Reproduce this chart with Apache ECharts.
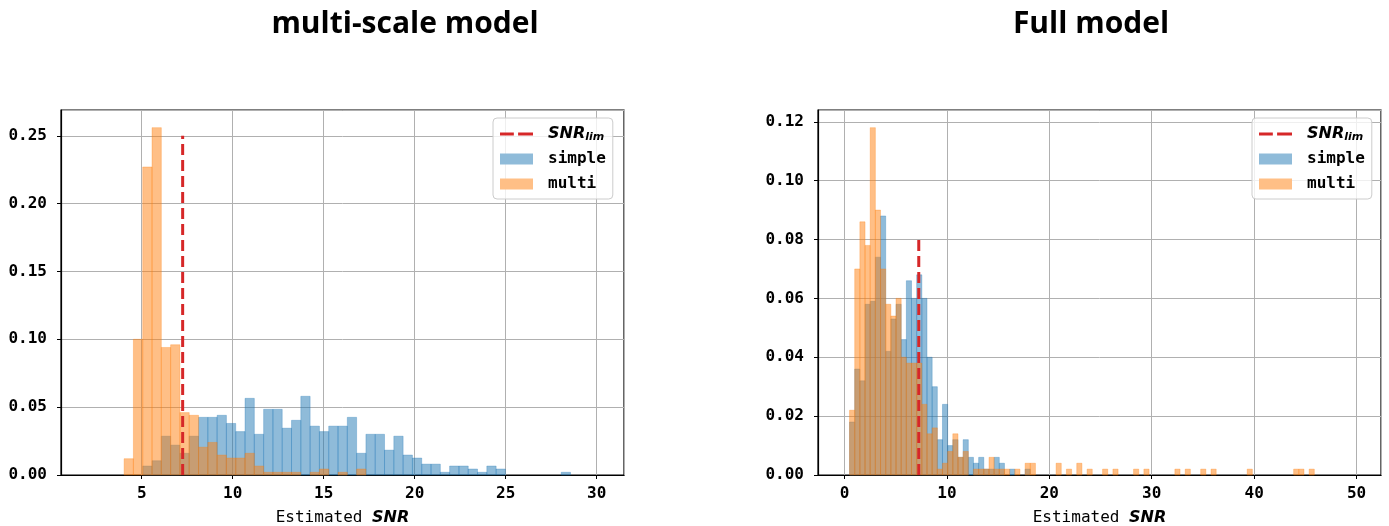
<!DOCTYPE html>
<html>
<head>
<meta charset="utf-8">
<script src="https://cdn.jsdelivr.net/npm/echarts@6/dist/echarts.min.js"></script>
<style>
html, body { margin: 0; padding: 0; background: #fff; }
#chart { width: 1389px; height: 526px; }
</style>
</head>
<body>
<div id="chart"></div>
<script>
// SNR limit (dashed line)
var snrLim = 7.25;
var leftLimTop = 0.25;
var rightLimTop = 0.08;

// multi-scale model: density histograms, equal bins
var leftBinStart = 1.99, leftBinWidth = 0.511;
var leftSimple = [0, 0, 0, 0, 0, 0, 0.0066, 0.0105, 0.0286, 0.022, 0.016, 0.0286,
    0.0425, 0.0425, 0.044, 0.038, 0.032, 0.0565, 0.030, 0.0484, 0.0484, 0.0345,
    0.0403, 0.058, 0.036, 0.032, 0.036, 0.036, 0.0425, 0.016, 0.030, 0.030, 0.0183,
    0.0286, 0.0147, 0.0125, 0.008, 0.008, 0.002, 0.0066, 0.0066, 0.0044, 0.002,
    0.0066, 0.0044, 0, 0, 0, 0, 0, 0, 0.002];
var leftMulti = [0, 0, 0, 0, 0.012, 0.100, 0.227, 0.256, 0.094, 0.096, 0.046, 0.044,
    0.0205, 0.024, 0.0147, 0.0125, 0.0125, 0.016, 0.0066, 0.002, 0.002, 0.002, 0.002,
    0, 0.002, 0.0044, 0, 0.002, 0, 0.0044];

// Full model
var rightBinStart = 0.49, rightBinWidth = 0.5043;
var rightSimple = [0.018, 0.036, 0.032, 0.058, 0.059, 0.074, 0.088, 0.042, 0.053, 0.058,
    0.046, 0.066, 0.060, 0.068, 0.060, 0.040, 0.030, 0.012, 0.024, 0.010,
    0.012, 0.006, 0.012, 0.006, 0.004, 0.006, 0.002, 0.002, 0.006, 0.004,
    0, 0.002, 0, 0, 0.002];
var rightMulti = [0.022, 0.070, 0.086, 0.078, 0.118, 0.090, 0.070, 0.058, 0.054, 0.060,
    0.040, 0.038, 0.038, 0.038, 0.024, 0.014, 0.016, 0.002, 0.004, 0.008,
    0.014, 0.006, 0.008, 0, 0.002, 0.002, 0.002, 0.006, 0.002, 0.002,
    0.002, 0, 0.002, 0, 0.004, 0.004, 0, 0, 0, 0,
    0.004, 0, 0.002, 0, 0.004, 0, 0.002, 0, 0, 0.002,
    0, 0.002, 0, 0, 0, 0.002, 0, 0.002, 0, 0,
    0, 0, 0, 0.002, 0, 0.002, 0, 0, 0.002, 0,
    0.002, 0, 0, 0, 0, 0, 0, 0.002, 0, 0,
    0, 0, 0, 0, 0, 0, 0.002, 0.002, 0, 0.002];

var titles = ['multi-scale model', 'Full model'];

var blue = '#1f77b4', orange = '#ff7f0e', red = '#d62728';
var tickFont = { fontFamily: 'DejaVu Sans Mono', fontWeight: 'bold', fontSize: 16, color: '#000' };

function toBins(heights, start, width) {
    var out = [];
    for (var i = 0; i < heights.length; i++) {
        if (heights[i] > 0) out.push([start + i * width, start + (i + 1) * width, heights[i]]);
    }
    return out;
}

function histItem(color) {
    return function (params, api) {
        var tl = api.coord([api.value(0), api.value(2)]);
        var br = api.coord([api.value(1), 0]);
        return {
            type: 'rect',
            shape: { x: tl[0], y: tl[1], width: br[0] - tl[0], height: br[1] - tl[1] },
            style: { fill: color, stroke: color, lineWidth: 0.6, opacity: 0.5 }
        };
    };
}

function xAxis(idx, min, max, step) {
    return {
        type: 'value', gridIndex: idx, min: min, max: max,
        minInterval: step, maxInterval: step,
        name: '{a|Estimated }{b|SNR}', nameLocation: 'middle', nameGap: 35,
        nameTextStyle: {
            rich: {
                a: { fontFamily: 'DejaVu Sans Mono', fontSize: 16, color: '#000' },
                b: { fontFamily: 'DejaVu Sans', fontSize: 16, fontWeight: 'bold', fontStyle: 'italic', color: '#000' }
            }
        },
        axisLine: { onZero: false, lineStyle: { color: '#000', width: 1.2 } },
        axisTick: { length: 4, lineStyle: { color: '#000', width: 1 } },
        axisLabel: Object.assign({ margin: 11, showMinLabel: false, showMaxLabel: false }, tickFont),
        splitLine: { show: true, lineStyle: { color: '#b0b0b0', width: 1 } }
    };
}

function yAxis(idx, max, step) {
    return {
        type: 'value', gridIndex: idx, min: 0, max: max,
        minInterval: step, maxInterval: step,
        axisLine: { show: true, onZero: false, lineStyle: { color: '#000', width: 1.2 } },
        axisTick: { show: true, length: 4, lineStyle: { color: '#000', width: 1 } },
        axisLabel: Object.assign({
            margin: 14, showMaxLabel: false,
            formatter: function (v) { return v.toFixed(2); }
        }, tickFont),
        splitLine: { show: true, lineStyle: { color: '#b0b0b0', width: 1 } }
    };
}

function legend(left) {
    return {
        left: left, top: 118, orient: 'vertical', selectedMode: false,
        backgroundColor: 'rgba(255,255,255,0.8)', borderColor: '#cccccc', borderWidth: 1,
        borderRadius: 4, padding: [7, 7, 6, 7],
        itemWidth: 33, itemHeight: 11, itemGap: 7, symbolKeepAspect: true,
        textStyle: {
            fontFamily: 'DejaVu Sans Mono', fontWeight: 'bold', fontSize: 16, color: '#000',
            lineHeight: 18, padding: [0, 0, 0, 10],
            rich: {
                b: { fontFamily: 'DejaVu Sans', fontWeight: 'bold', fontStyle: 'italic', fontSize: 16, lineHeight: 18 },
                s: { fontFamily: 'DejaVu Sans', fontWeight: 'bold', fontStyle: 'italic', fontSize: 11, lineHeight: 18, verticalAlign: 'bottom', padding: [6, 0, 0, 0] }
            }
        },
        formatter: function (name) { return name === 'SNR' ? '{b|SNR}{s|lim}' : name; },
        data: [
            { name: 'SNR', icon: 'path://M0,0L13,0L13,3L0,3Z M17,0L31,0L31,3L17,3Z', itemStyle: { color: red, opacity: 1 } },
            { name: 'simple', icon: 'rect', itemStyle: { color: '#8fbbd9', opacity: 1 } },
            { name: 'multi', icon: 'rect', itemStyle: { color: '#ffbf86', opacity: 1 } }
        ]
    };
}

function histSeries(name, idx, heights, start, width, color) {
    return {
        type: 'custom', name: name, xAxisIndex: idx, yAxisIndex: idx,
        renderItem: histItem(color), itemStyle: { color: color },
        encode: { x: [0, 1], y: 2 },
        data: toBins(heights, start, width)
    };
}

function limSeries(idx, top) {
    return {
        type: 'line', name: 'SNR', xAxisIndex: idx, yAxisIndex: idx, symbol: 'none', z: 5,
        lineStyle: { color: red, width: 3, type: [11, 5] }, itemStyle: { color: red },
        data: [[snrLim, 0], [snrLim, top]]
    };
}

var titleFont = 'bold 30px "Open Sans"';
var gridBase = { top: 110, width: 563, height: 365, show: true, borderColor: '#000', borderWidth: 1.2,
    containLabel: false, outerBoundsMode: 'none' };
var chart = echarts.init(document.getElementById('chart'));
chart.setOption({
    animation: false,
    backgroundColor: '#fff',
    graphic: [
        { type: 'text', x: 405, y: 24, style: { text: titles[0], font: titleFont, fill: '#000', textAlign: 'center', textVerticalAlign: 'middle' } },
        { type: 'text', x: 1091, y: 24, style: { text: titles[1], font: titleFont, fill: '#000', textAlign: 'center', textVerticalAlign: 'middle' } }
    ],
    grid: [
        Object.assign({ left: 61 }, gridBase),
        Object.assign({ left: 818 }, gridBase)
    ],
    legend: [legend(493), legend(1252)],
    xAxis: [xAxis(0, 0.566, 31.5, 5), xAxis(1, -2.59, 52.39, 10)],
    yAxis: [yAxis(0, 0.269, 0.05), yAxis(1, 0.124, 0.02)],
    series: [
        histSeries('simple', 0, leftSimple, leftBinStart, leftBinWidth, blue),
        histSeries('multi', 0, leftMulti, leftBinStart, leftBinWidth, orange),
        limSeries(0, leftLimTop),
        histSeries('simple', 1, rightSimple, rightBinStart, rightBinWidth, blue),
        histSeries('multi', 1, rightMulti, rightBinStart, rightBinWidth, orange),
        limSeries(1, rightLimTop)
    ]
});
</script>
</body>
</html>
